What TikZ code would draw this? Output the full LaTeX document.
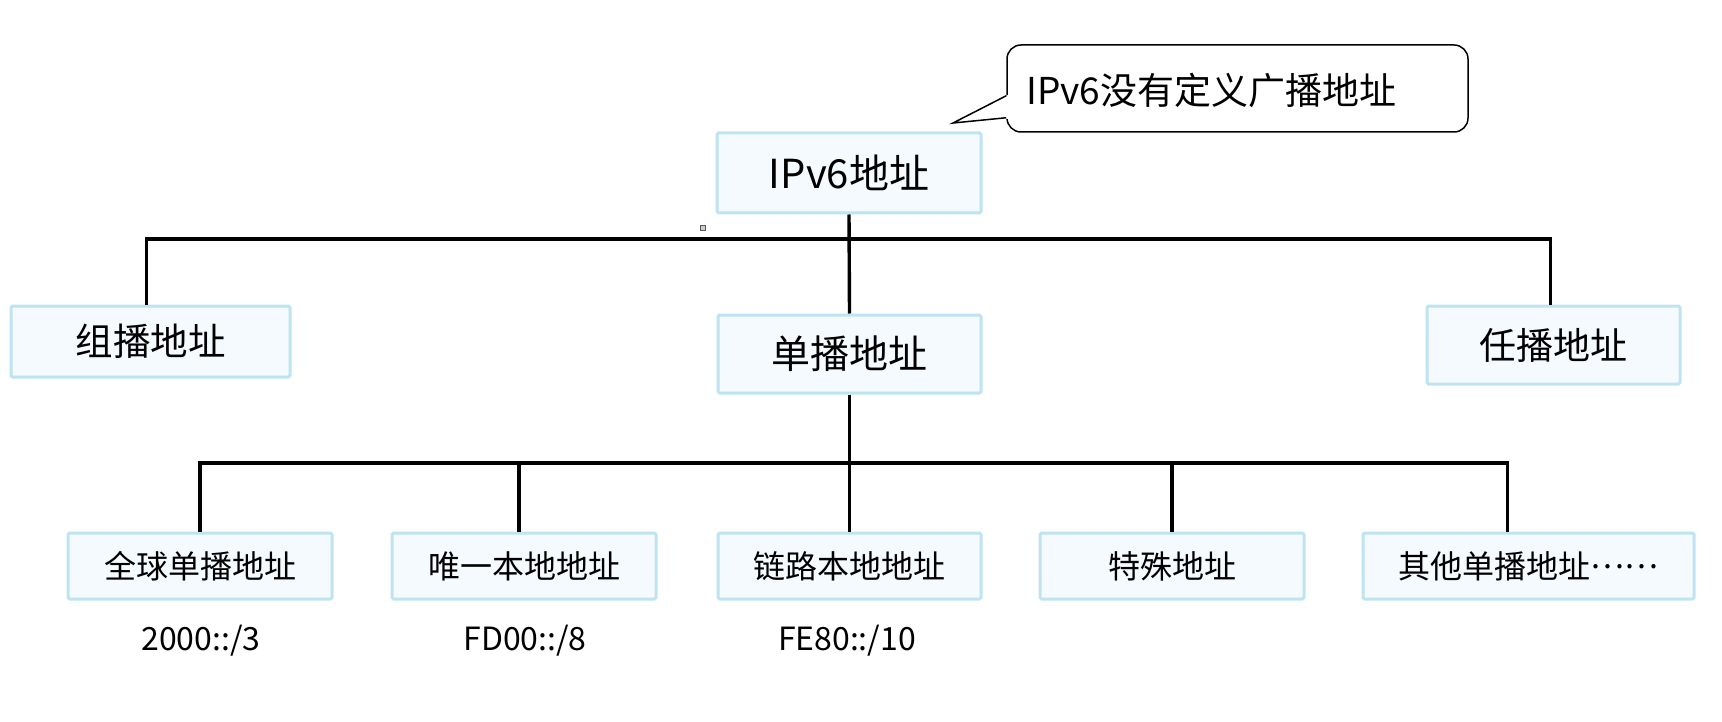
\documentclass[tikz,border=0pt]{standalone}
\usepackage{fontspec}
\setmainfont{Noto Sans CJK SC}
\usetikzlibrary{calc}
\definecolor{boxborder}{RGB}{190,228,241}
\definecolor{boxfill}{RGB}{244,250,253}
\tikzset{
  addrbox/.style={draw=boxborder, fill=boxfill, line width=3pt, rounded corners=1.5pt,
    inner sep=0pt, align=center, text=black},
  conn/.style={draw=black, line width=3.4pt},
  notebox/.style={draw=black, fill=white, line width=1.5pt, rounded corners=14pt,
    inner sep=0pt, minimum width=461pt, minimum height=87pt},
  prefixlabel/.style={inner sep=0pt, font=\fontsize{32}{36}\selectfont}
}
\begin{document}
\begin{tikzpicture}[x=1pt,y=-1pt]
\useasboundingbox (0,0) rectangle (1722,722);
% callout
\node[notebox] (note) at (1237.5,88.5) {};
\node[anchor=west, inner sep=0pt, font=\fontsize{37}{42}\selectfont] (notetext) at (1026,90) {IPv6没有定义广播地址};
\coordinate (tip) at (953,123);
\coordinate (pa) at ($(note.south west)+(0,-37)$);
\coordinate (pb) at ($(note.south west)+(0,-15)$);
\fill[white] ($(pa)+(2,-1)$) -- (tip) -- ($(pb)+(2,1)$) -- cycle;
\draw[line width=1.5pt, line join=miter] (pa) -- (tip) -- (pb);
% boxes
\node[addrbox, minimum width=264pt, minimum height=80pt, font=\fontsize{40}{46}\selectfont] (top) at (849,173) {IPv6地址};
\node[addrbox, minimum width=279pt, minimum height=71pt, font=\fontsize{37.5}{42}\selectfont] (mcast) at (150.5,341.5) {组播地址};
\node[addrbox, minimum width=263pt, minimum height=78pt, font=\fontsize{39}{44}\selectfont] (ucast) at (849.5,354) {单播地址};
\node[addrbox, minimum width=253pt, minimum height=78pt, font=\fontsize{37}{42}\selectfont] (acast) at (1553.5,345) {任播地址};
\node[addrbox, minimum width=264pt, minimum height=66pt, font=\fontsize{32}{36}\selectfont] (global) at (200,566) {全球单播地址};
\node[addrbox, minimum width=264pt, minimum height=66pt, font=\fontsize{32}{36}\selectfont] (ula) at (524,566) {唯一本地地址};
\node[addrbox, minimum width=263pt, minimum height=66pt, font=\fontsize{32}{36}\selectfont] (link) at (849.5,566) {链路本地地址};
\node[addrbox, minimum width=264pt, minimum height=66pt, font=\fontsize{32}{36}\selectfont] (special) at (1172,566) {特殊地址};
\node[addrbox, minimum width=331pt, minimum height=66pt, font=\fontsize{32}{36}\selectfont] (other) at (1528.5,566) {其他单播地址\raisebox{0.3em}{……}};
% prefixes
\node[prefixlabel] (p1) at (201,641) {2000::/3};
\node[prefixlabel] (p2) at (525,641) {FD00::/8};
\node[prefixlabel] (p3) at (847,641) {FE80::/10};
% connectors
\coordinate (bus1) at (849,239);
\coordinate (bus2) at (849,463);
\coordinate (mtop) at ([xshift=-4pt]mcast.north);
\coordinate (atop) at ([xshift=-3pt]acast.north);
\coordinate (utop) at ([xshift=-5pt]ula.north);
\coordinate (otop) at ([xshift=-21pt]other.north);
\draw[conn] (mtop) -- (mtop |- bus1) -- (atop |- bus1) -- (atop);
\draw[conn] (top.south) -- (ucast.north);
\draw[conn] (global.north) -- (global.north |- bus2) -- (otop |- bus2) -- (otop);
\draw[conn] (ucast.south) -- (link.north);
\draw[conn] (utop) -- (utop |- bus2);
\draw[conn] (special.north) -- (special.north |- bus2);
% small handle mark
\draw[gray!70!black, line width=1pt, fill=gray!40] (700,226) rectangle (705,231);
\end{tikzpicture}
\end{document}
